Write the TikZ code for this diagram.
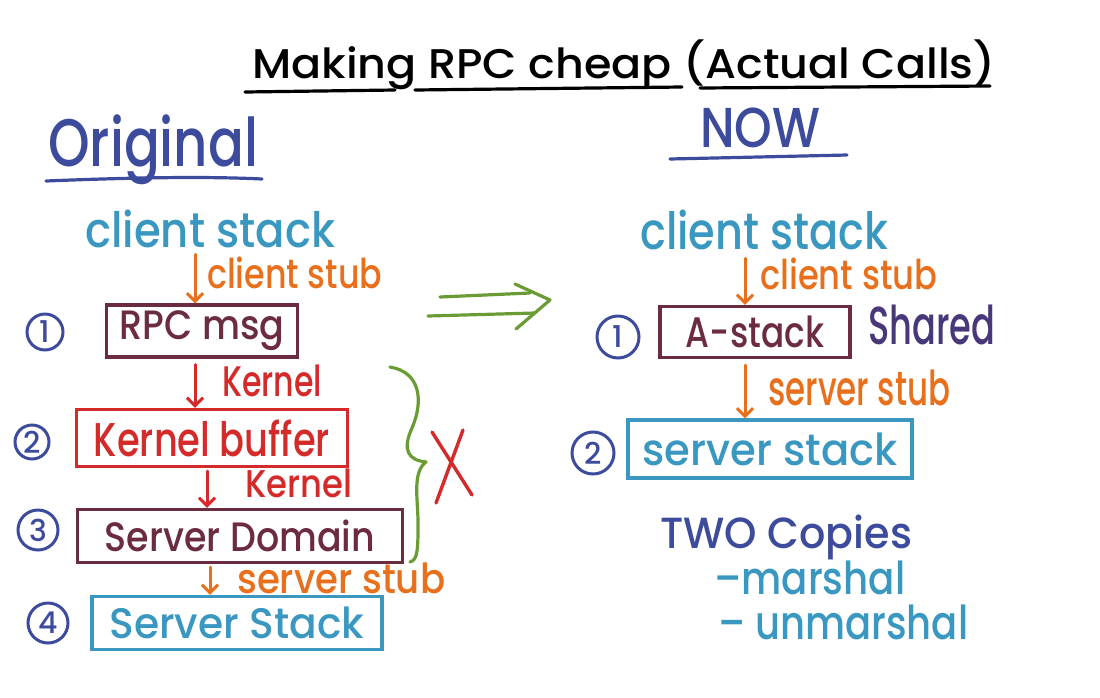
\documentclass[tikz,border=0pt]{standalone}
\usepackage{fontspec}
\setmainfont{Poppins}[UprightFont = * Medium, BoldFont = * Bold]
\usepackage{graphicx}
\usetikzlibrary{arrows.meta}
\definecolor{ink}{HTML}{3C4B9C}
\definecolor{teal}{HTML}{3A98C0}
\definecolor{orng}{HTML}{E8701C}
\definecolor{maroon}{HTML}{6C2C40}
\definecolor{kred}{HTML}{D42A2A}
\definecolor{grn}{HTML}{6A9B35}
\definecolor{purp}{HTML}{48387A}
\newcommand\fitt[3]{\resizebox*{#1pt}{#2pt}{#3}}
\tikzset{
  txt/.style={inner sep=0pt, anchor=north west},
  box/.style={draw, line width=3.4pt, inner sep=0pt},
  num/.style={circle, draw=ink, line width=3pt, text=ink, inner sep=0pt, font=\fontsize{30}{30}\selectfont},
  arr/.style={line width=3pt, line cap=round, -{Straight Barb[length=8pt,width=16pt]}},
  pen/.style={line width=3.2pt, line cap=round, line join=round},
}
\begin{document}
\begin{tikzpicture}[x=1pt,y=-1pt]
\useasboundingbox (0,0) rectangle (1100,697);
% title
\node[txt] (title) at (252,40) {\fitt{743}{50}{Making RPC cheap (Actual Calls)}};
\draw[pen, black] (245,92) -- (395,90) (415,90) -- (682,87) (700,88) -- (990,86);
% headings
\node[txt, text=ink] (orig) at (48,115) {\fitt{210}{70}{Original}};
\draw[pen, ink] (46,181) .. controls (120,178) and (200,176) .. (262,179);
\node[txt, text=ink] (now) at (700,108) {\fitt{120}{40}{NOW}};
\draw[pen, ink] (670,159) -- (847,155);
% left column
\node[txt, text=teal] (csL) at (85,210) {\fitt{250}{38}{client stack}};
\node[txt, text=orng] (cstubL) at (207,257) {\fitt{175}{32}{client stub}};
\node[box, draw=maroon, text=maroon, minimum width=191pt, minimum height=52pt] (rpc) at (202,331) {\fitt{165}{40}{RPC msg}};
\node[num, minimum size=36pt] (n1L) at (45,332) {1};
\node[txt, text=kred] (k1) at (222,365) {\fitt{100}{32}{Kernel}};
\node[box, draw=kred, text=kred, minimum width=271pt, minimum height=57pt] (kb) at (212,438) {\fitt{236}{37}{Kernel buffer}};
\node[num, minimum size=34pt] (n2L) at (32,442) {2};
\node[txt, text=kred] (k2) at (245,469) {\fitt{107}{29}{Kernel}};
\node[box, draw=maroon, text=maroon, minimum width=325pt, minimum height=53pt] (sd) at (240,536) {\fitt{270}{32}{Server Domain}};
\node[num, minimum size=40pt] (n3L) at (38,530) {3};
\node[txt, text=orng] (sstubL) at (237,563) {\fitt{208}{31}{server stub}};
\node[box, draw=teal, text=teal, minimum width=290pt, minimum height=53pt] (ssL) at (237,623) {\fitt{255}{32}{Server Stack}};
\node[num, minimum size=40pt] (n4L) at (48,623) {4};
% left arrows
\draw[arr, orng, shorten <=6pt] (csL.south -| 195,0) -- (rpc.north -| 195,0);
\draw[arr, kred, shorten <=6pt] (rpc.south -| 195,0) -- (kb.north -| 195,0);
\draw[arr, kred, shorten <=3pt] (kb.south -| 207,0) -- (sd.north -| 207,0);
\draw[arr, orng, shorten <=3pt] (sd.south -| 210,0) -- (ssL.north -| 210,0);
% brace and X
\draw[pen, grn] (390,367) .. controls (420,372) and (424,400) .. (412,428) .. controls (402,450) and (408,460) .. (426,462) .. controls (412,472) and (418,500) .. (418,522) .. controls (418,548) and (418,560) .. (410,562);
\draw[pen, kred, line width=3.4pt] (432,432) -- (472,495) (463,430) -- (436,503);
% green double arrow
\coordinate (gtip) at (550,300);
\draw[pen, grn] (440,297) -- (530,293) (428,316) -- (535,313);
\draw[pen, grn] (515,284) -- (gtip) -- (516,329);
% right column
\node[txt, text=teal] (csR) at (640,210) {\fitt{248}{40}{client stack}};
\node[txt, text=orng] (cstubR) at (760,258) {\fitt{177}{32}{client stub}};
\node[box, draw=maroon, text=maroon, minimum width=190pt, minimum height=51pt] (as) at (755,332) {\fitt{138}{32}{A-stack}};
\node[num, minimum size=42pt] (n1R) at (618,337) {1};
\node[txt, text=purp] (shared) at (868,305) {\fitt{127}{40}{Shared}};
\node[txt, text=orng] (sstubR) at (768,370) {\fitt{182}{36}{server stub}};
\node[box, draw=teal, text=teal, minimum width=284pt, minimum height=58pt] (ssR) at (770,449) {\fitt{255}{33}{server stack}};
\node[num, minimum size=42pt] (n2R) at (593,453) {2};
\draw[arr, orng, shorten <=8pt] (csR.south -| 745,0) -- (as.north -| 745,0);
\draw[arr, orng, shorten <=6pt] (as.south -| 745,0) -- (ssR.north -| 745,0);
% two copies
\node[txt, text=ink] (two) at (660,515) {\fitt{252}{45}{TWO Copies}};
\node[txt, text=teal] (m1) at (714,561) {\fitt{191}{34}{–marshal}};
\node[txt, text=teal] (m2) at (718,605) {\fitt{250}{35}{– unmarshal}};
\end{tikzpicture}
\end{document}
